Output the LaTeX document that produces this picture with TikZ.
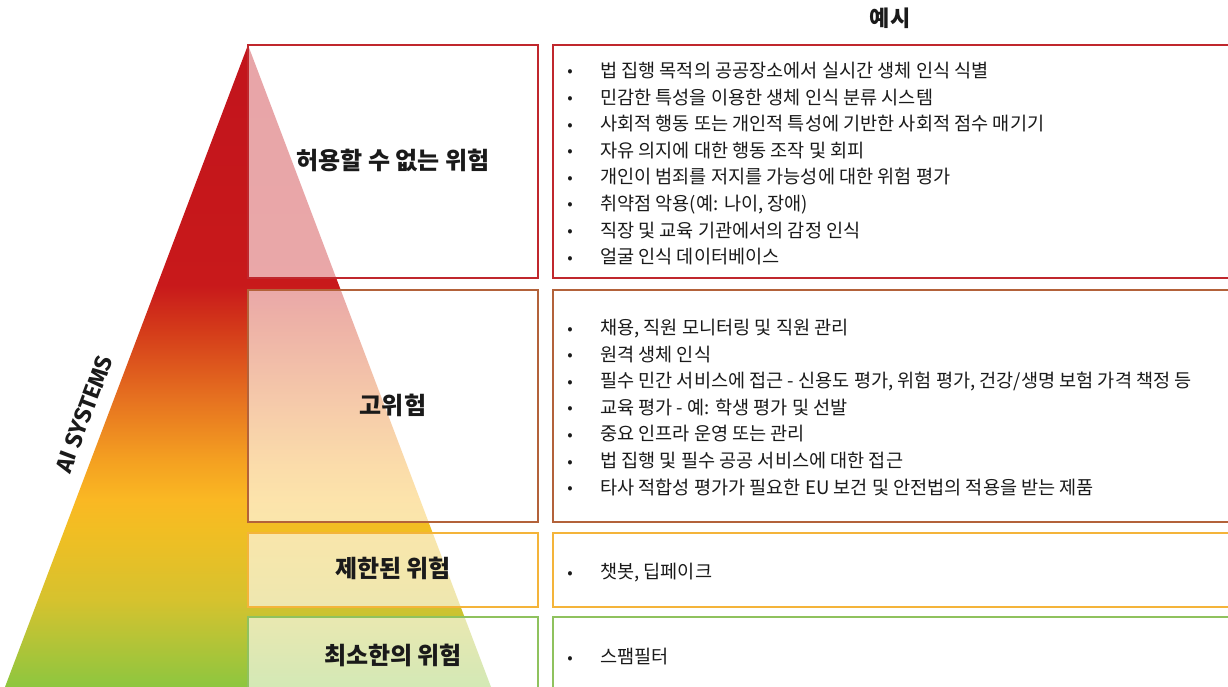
\documentclass[tikz,border=0pt]{standalone}
\usepackage{fontspec}
\setmainfont{Noto Sans CJK KR}
\newfontfamily\aifont{Fira Sans}
\definecolor{g0}{HTML}{C2141C}
\definecolor{g1}{HTML}{C8191B}
\definecolor{g1b}{HTML}{D43B1A}
\definecolor{g2}{HTML}{E67220}
\definecolor{g3}{HTML}{F4A021}
\definecolor{g4}{HTML}{FAB823}
\definecolor{g5}{HTML}{F1BE23}
\definecolor{g6}{HTML}{D6C22E}
\definecolor{g7}{HTML}{B4C437}
\definecolor{g8}{HTML}{8DC63F}
\definecolor{b1}{HTML}{C0272D}
\definecolor{b2}{HTML}{B3623A}
\definecolor{b3}{HTML}{F4B43A}
\definecolor{b4}{HTML}{8FC25E}
\definecolor{txt}{HTML}{1A1A1A}
\pgfdeclareverticalshading{riskgrad}{100bp}{color(0bp)=(g8); color(25bp)=(g8); color(28.6bp)=(g7); color(31.8bp)=(g6); color(37.2bp)=(g5); color(39.6bp)=(g4); color(42.7bp)=(g3); color(47.4bp)=(g2); color(52.8bp)=(g1b); color(56.3bp)=(g1); color(75bp)=(g0); color(100bp)=(g0)}
\tikzset{
  lbox/.style={draw, line width=1.5pt, fill=white, fill opacity=0.62, minimum width=290pt, inner sep=0pt},
  rbox/.style={draw, line width=1.5pt, minimum width=687pt, inner sep=0pt},
  lab/.style={font=\bfseries\fontsize{24}{28}\selectfont, text=txt, inner sep=0pt},
  titlelab/.style={font=\bfseries\fontsize{22}{26}\selectfont, text=txt, inner sep=0pt},
  item/.style={anchor=base west, font=\fontsize{18.6}{22}\selectfont, text=txt, inner sep=0pt},
  bul/.style={anchor=base, font=\fontsize{16}{18}\selectfont, text=txt, inner sep=0pt},
  aisys/.style={font=\aifont\bfseries\fontsize{23.5}{28}\selectfont, text=txt, rotate=69.35, inner sep=0pt}
}
\begin{document}
\begin{tikzpicture}[x=1pt,y=-1pt]
\useasboundingbox (0,0) rectangle (1228,687);
\clip (0,0) rectangle (1228,687);
\fill[white] (0,0) rectangle (1228,687);
% pyramid
\shade[shading=riskgrad] (248,45) -- (491,687) -- (5,687) -- cycle;
% left boxes
\node[lbox, draw=b1, minimum height=233pt] (L1) at (393,161.5) {};
\node[lbox, draw=b2, minimum height=232pt] (L2) at (393,406) {};
\node[lbox, draw=b3, minimum height=74pt] (L3) at (393,570) {};
\node[lbox, draw=b4, minimum height=83pt] (L4) at (393,658.5) {};
% right boxes
\node[rbox, draw=b1, minimum height=233pt] (R1) at (896.5,161.5) {};
\node[rbox, draw=b2, minimum height=232pt] (R2) at (896.5,406) {};
\node[rbox, draw=b3, minimum height=74pt] (R3) at (896.5,570) {};
\node[rbox, draw=b4, minimum height=83pt] (R4) at (896.5,658.5) {};
% labels
\node[lab] (t1) at (393,160) {허용할 수 없는 위험};
\node[lab] (t2) at (393,405) {고위험};
\node[lab] (t3) at (393,568) {제한된 위험};
\node[lab] (t4) at (393,655) {최소한의 위험};
\node[titlelab] (title) at (890,18) {예시};
\node[aisys] (ai) at (84,414) {AI SYSTEMS};
% row 1 items
\foreach \y/\t [count=\i] in {
  71/{법 집행 목적의 공공장소에서 실시간 생체 인식 식별},
  97.6/{민감한 특성을 이용한 생체 인식 분류 시스템},
  124.2/{사회적 행동 또는 개인적 특성에 기반한 사회적 점수 매기기},
  150.8/{자유 의지에 대한 행동 조작 및 회피},
  177.4/{개인이 범죄를 저지를 가능성에 대한 위험 평가},
  204/{취약점 악용(예: 나이, 장애)},
  230.6/{직장 및 교육 기관에서의 감정 인식},
  257.2/{얼굴 인식 데이터베이스}}{
  \node[bul] (ba\i) at (570,\y+6) {•};
  \node[item] (ia\i) at (600,\y+6.5) {\t};
}
% row 2 items
\foreach \y/\t [count=\i] in {
  328/{채용, 직원 모니터링 및 직원 관리},
  354.6/{원격 생체 인식},
  381.2/{필수 민간 서비스에 접근 - 신용도 평가, 위험 평가, 건강/생명 보험 가격 책정 등},
  407.8/{교육 평가 - 예: 학생 평가 및 선발},
  434.4/{중요 인프라 운영 또는 관리},
  461/{법 집행 및 필수 공공 서비스에 대한 접근},
  487.6/{타사 적합성 평가가 필요한 EU 보건 및 안전법의 적용을 받는 제품}}{
  \node[bul] (bb\i) at (570,\y+6) {•};
  \node[item] (ib\i) at (600,\y+6.5) {\t};
}
% row 3, 4 items
\node[bul] (bc1) at (570,578) {•};
\node[item] (ic1) at (600,578.5) {챗봇, 딥페이크};
\node[bul] (bd1) at (570,663) {•};
\node[item] (id1) at (600,663.5) {스팸필터};
\end{tikzpicture}
\end{document}
